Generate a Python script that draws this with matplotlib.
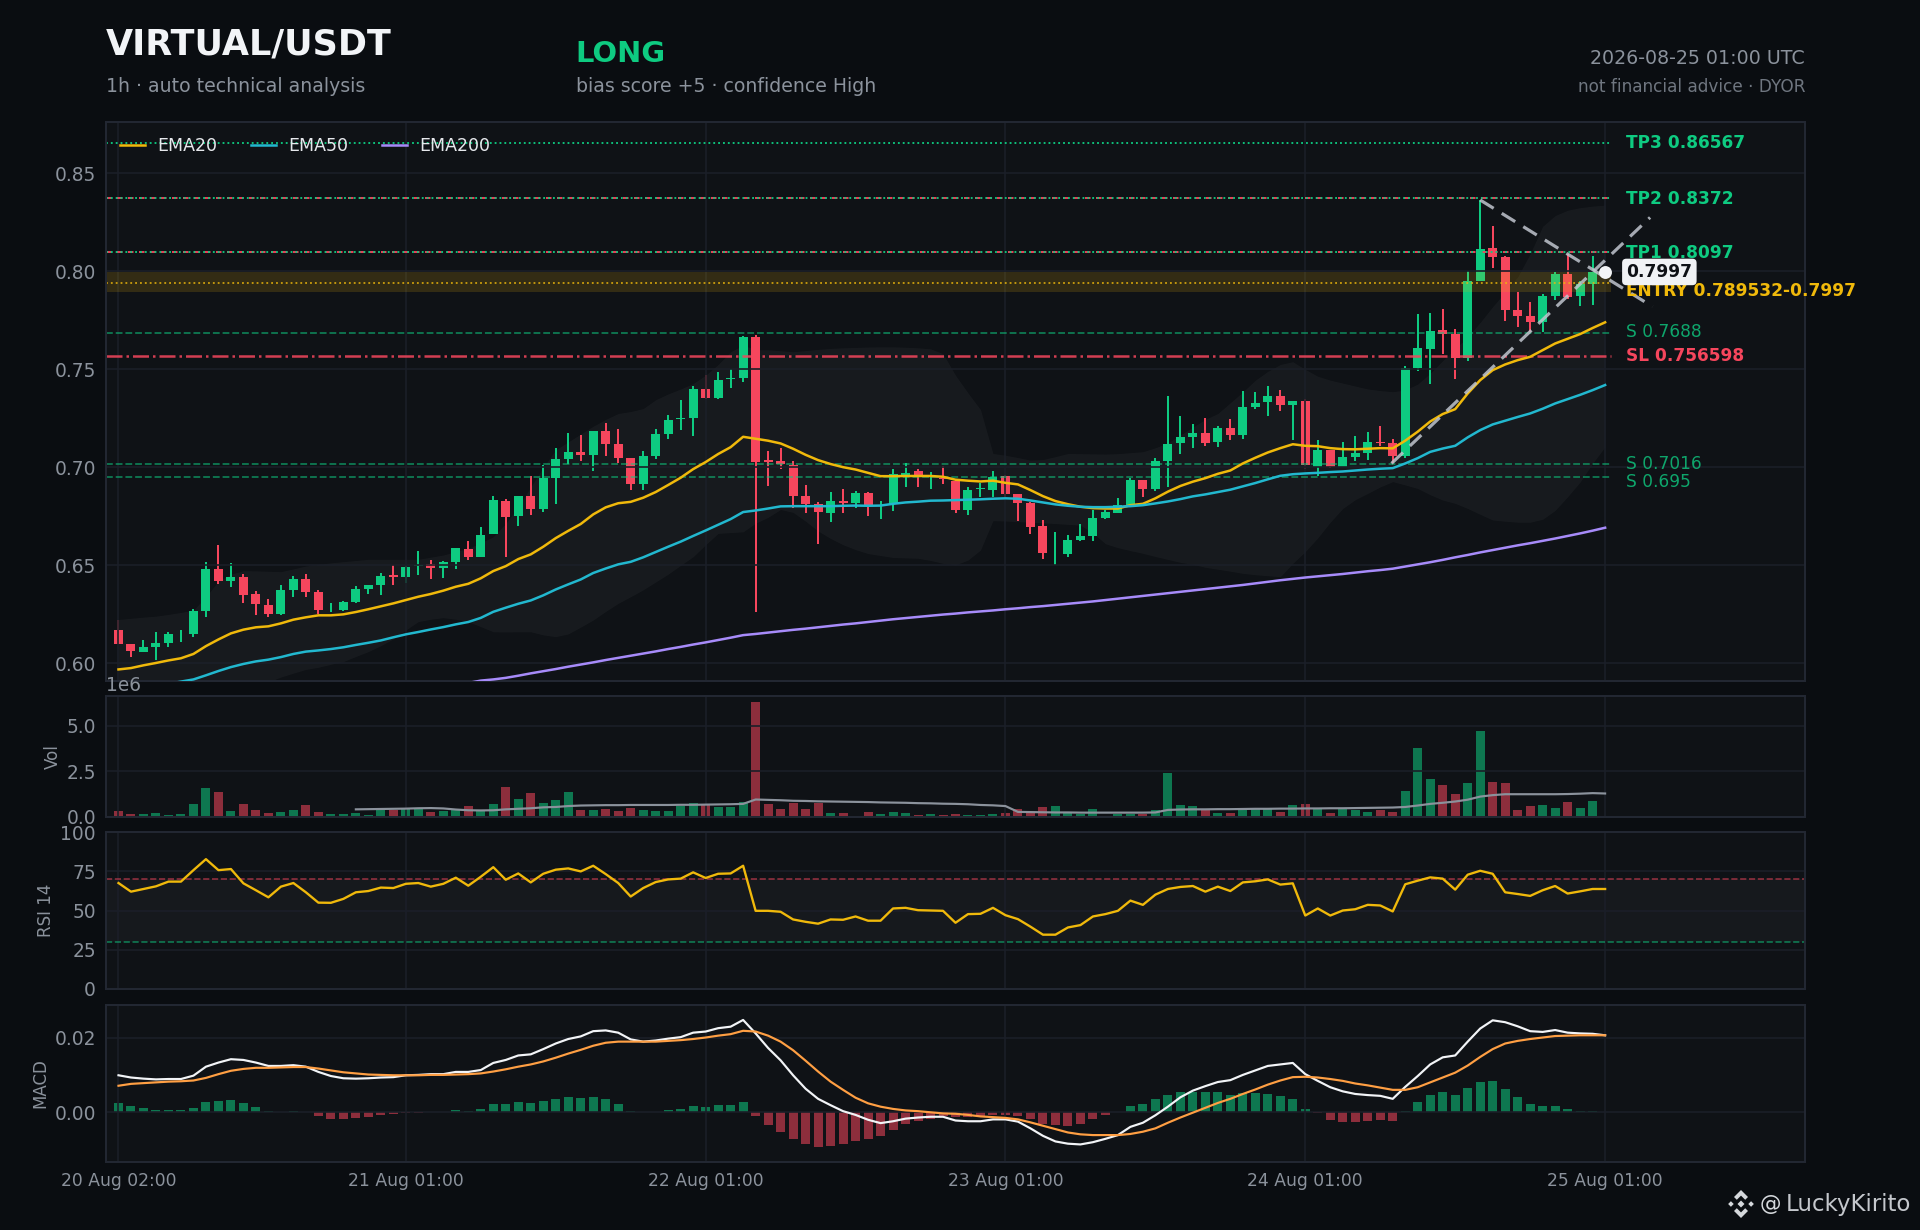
import numpy as np
import matplotlib
matplotlib.use("Agg")
import matplotlib.pyplot as plt
from matplotlib.patches import Polygon

# candles, one per hour from 20 Aug 02:00
opens = [.6170,.6099,.6058,.6085,.6104,.6130,.6150,.6267,.6481,.6420,.6440,.6354,.6298,.6252,.6374,.6430,.6364,.6275,.6272,.6313,
         .6379,.6400,.6445,.6440,.6495,.6507,.6486,.6517,.6583,.6543,.6660,.6828,.6752,.6854,.6787,.6945,.7042,.7078,.7063,.7185,
         .7119,.7047,.6915,.7058,.7170,.7245,.7251,.7399,.7353,.7452,.7455,.7664,.7031,.7031,.7012,.6854,.6813,.6767,.6822,.6817,
         .6868,.6805,.6812,.6960,.6981,.6949,.6941,.6930,.6782,.6888,.6884,.6955,.6864,.6818,.6700,.6562,.6557,.6629,.6649,.6741,
         .6767,.6807,.6935,.6889,.7032,.7124,.7154,.7175,.7129,.7200,.7165,.7307,.7333,.7364,.7318,.7338,.7001,.7088,.7001,.7053,
         .7073,.7127,.7124,.7057,.7506,.7603,.7700,.7680,.7557,.7950,.8118,.8073,.7802,.7772,.7741,.7874,.7986,.7874,.7935]
closes = [.6100,.6063,.6083,.6104,.6150,.6130,.6267,.6481,.6420,.6440,.6349,.6303,.6252,.6374,.6430,.6364,.6272,.6275,.6313,.6379,
          .6400,.6446,.6443,.6491,.6497,.6486,.6517,.6588,.6543,.6655,.6833,.6747,.6854,.6787,.6945,.7042,.7078,.7063,.7185,.7119,
          .7047,.6915,.7058,.7170,.7241,.7248,.7399,.7353,.7445,.7454,.7664,.7027,.7029,.7017,.6854,.6813,.6772,.6828,.6820,.6868,
          .6802,.6805,.6965,.6970,.6950,.6952,.6939,.6782,.6884,.6890,.6950,.6864,.6818,.6695,.6562,.6562,.6629,.6649,.6741,.6772,
          .6807,.6935,.6889,.7032,.7119,.7154,.7175,.7124,.7200,.7165,.7307,.7328,.7364,.7318,.7338,.7012,.7088,.7001,.7053,.7073,
          .7129,.7125,.7057,.7506,.7608,.7695,.7680,.7557,.7950,.8113,.8073,.7802,.7772,.7741,.7874,.7986,.7868,.7935,.7997]
highs = [.6221,.6099,.6119,.6160,.6160,.6170,.6276,.6517,.6604,.6512,.6456,.6369,.6328,.6400,.6446,.6456,.6374,.6308,.6318,.6395,
         .6400,.6461,.6502,.6502,.6573,.6527,.6522,.6588,.6624,.6696,.6854,.6838,.6854,.6955,.7011,.7098,.7175,.7165,.7185,.7226,
         .7195,.7047,.7083,.7195,.7267,.7343,.7415,.7471,.7486,.7501,.7670,.7675,.7083,.7098,.7032,.6910,.6823,.6874,.6889,.6879,
         .6874,.6826,.6990,.7022,.6991,.6976,.7006,.6940,.6899,.6919,.6981,.6960,.6864,.6823,.6731,.6669,.6654,.6711,.6782,.6782,
         .6843,.6945,.6935,.7047,.7364,.7262,.7221,.7251,.7211,.7246,.7389,.7384,.7414,.7394,.7338,.7348,.7139,.7088,.7129,.7160,
         .7180,.7211,.7144,.7516,.7782,.7787,.7807,.7705,.8001,.8364,.8231,.8078,.7894,.7843,.7884,.7996,.8088,.7950,.8078]
lows = [.6100,.6034,.6058,.6017,.6085,.6109,.6134,.6236,.6405,.6389,.6308,.6247,.6236,.6247,.6338,.6338,.6252,.6262,.6267,.6308,
        .6354,.6349,.6400,.6410,.6451,.6430,.6435,.6481,.6527,.6543,.6660,.6543,.6700,.6756,.6772,.6813,.7017,.7032,.6981,.7058,
        .7021,.6884,.6884,.7042,.7144,.7190,.7160,.7348,.7348,.7404,.7435,.6262,.6904,.6991,.6792,.6767,.6609,.6721,.6767,.6792,
        .6751,.6736,.6776,.6899,.6899,.6889,.6914,.6767,.6757,.6848,.6848,.6848,.6726,.6660,.6532,.6501,.6542,.6624,.6624,.6736,
        .6767,.6807,.6848,.6879,.6899,.7068,.7098,.7108,.7103,.7139,.7144,.7297,.7261,.7287,.7139,.6991,.6955,.6996,.7001,.7032,
        .7037,.7109,.7022,.7047,.7491,.7424,.7578,.7450,.7542,.7950,.8017,.7746,.7716,.7690,.7690,.7853,.7858,.7823,.7828]
volumes_m = [.31,.15,.15,.20,.09,.15,.70,1.58,1.36,.31,.70,.37,.20,.26,.37,.64,.26,.15,.15,.20,
             .09,.37,.37,.42,.42,.26,.31,.37,.59,.37,.70,1.64,.97,1.30,.75,.92,1.36,.37,.37,.42,
             .31,.48,.37,.31,.31,.59,.75,.64,.53,.53,.81,6.32,.70,.42,.75,.42,.75,.20,.20,.03,
             .26,.15,.26,.20,.09,.15,.09,.15,.09,.09,.15,.20,.42,.26,.53,.59,.20,.15,.42,.03,
             .15,.15,.15,.37,2.41,.64,.59,.37,.20,.20,.42,.42,.42,.26,.64,.70,.42,.20,.42,.37,
             .26,.37,.26,1.42,3.79,2.08,1.75,1.25,1.86,4.72,1.91,1.86,.37,.59,.64,.48,.81,.48,.86]
# volume average only exists from the 20th bar on
vol_ma_m = [.42,.43,.44,.45,.46,.48,.49,.47,.41,.37,.36,.37,.42,.45,.48,.53,.55,.60,.63,.64,
            .65,.65,.66,.66,.66,.66,.67,.67,.68,.69,.70,.72,.96,.94,.92,.89,.88,.86,.85,.84,
            .83,.82,.80,.79,.78,.76,.75,.73,.72,.70,.66,.64,.60,.28,.27,.26,.25,.25,.24,.24,
            .24,.24,.24,.24,.25,.39,.41,.42,.42,.43,.43,.44,.45,.45,.46,.46,.47,.47,.48,.48,
            .49,.50,.51,.52,.55,.63,.72,.78,.85,.95,1.12,1.20,1.25,1.25,1.25,1.25,1.25,1.26,1.28,1.31,
            1.29]
ema20 = [.5969,.5976,.5990,.6002,.6015,.6026,.6048,.6088,.6122,.6153,.6172,.6184,.6189,.6204,.6223,.6235,.6245,.6245,.6250,.6262,
         .6276,.6291,.6306,.6323,.6340,.6354,.6371,.6391,.6406,.6434,.6471,.6496,.6532,.6556,.6595,.6639,.6676,.6711,.6760,.6796,
         .6817,.6824,.6845,.6874,.6910,.6947,.6991,.7027,.7068,.7103,.7156,.7146,.7136,.7122,.7095,.7064,.7037,.7017,.7001,.6989,
         .6972,.6955,.6955,.6956,.6956,.6956,.6952,.6937,.6932,.6928,.6932,.6921,.6913,.6884,.6853,.6828,.6812,.6799,.6792,.6790,
         .6790,.6807,.6814,.6842,.6876,.6905,.6927,.6945,.6967,.6984,.7020,.7049,.7076,.7098,.7118,.7110,.7108,.7098,.7093,.7092,
         .7095,.7098,.7097,.7136,.7182,.7234,.7272,.7297,.7377,.7445,.7496,.7525,.7547,.7564,.7598,.7632,.7656,.7680,.7711,.7740]
ema50 = [.5860,.5868,.5876,.5885,.5895,.5907,.5918,.5939,.5961,.5981,.5997,.6010,.6019,.6032,.6048,.6060,.6066,.6073,.6082,.6094,
         .6105,.6117,.6133,.6148,.6160,.6173,.6185,.6199,.6211,.6232,.6263,.6284,.6304,.6321,.6347,.6377,.6403,.6428,.6461,.6484,
         .6505,.6518,.6541,.6568,.6595,.6621,.6650,.6678,.6707,.6736,.6772,.6780,.6790,.6801,.6802,.6802,.6802,.6802,.6804,.6805,
         .6804,.6805,.6814,.6821,.6825,.6830,.6831,.6833,.6835,.6837,.6840,.6842,.6840,.6831,.6821,.6811,.6804,.6799,.6797,.6797,
         .6799,.6802,.6807,.6816,.6826,.6838,.6852,.6862,.6874,.6886,.6903,.6920,.6939,.6957,.6965,.6969,.6972,.6976,.6979,.6984,
         .6989,.6993,.6996,.7020,.7047,.7079,.7096,.7110,.7153,.7190,.7219,.7238,.7257,.7275,.7299,.7326,.7348,.7370,.7394,.7420]
ema200 = [.5810,.5815,.5820,.5825,.5830,.5835,.5840,.5845,.5850,.5855,.5860,.5865,.5868,.5870,.5872,.5874,.5876,.5878,.5880,.5882,
          .5884,.5886,.5888,.5890,.5892,.5894,.5896,.5898,.5900,.5912,.5918,.5926,.5937,.5949,.5960,.5971,.5983,.5994,.6005,.6017,
          .6028,.6039,.6050,.6061,.6073,.6084,.6096,.6107,.6119,.6131,.6144,.6150,.6157,.6164,.6171,.6177,.6184,.6191,.6198,.6204,
          .6211,.6218,.6225,.6231,.6237,.6243,.6249,.6254,.6260,.6265,.6270,.6276,.6281,.6287,.6292,.6298,.6304,.6310,.6316,.6323,
          .6330,.6337,.6344,.6351,.6358,.6365,.6372,.6379,.6386,.6393,.6400,.6408,.6416,.6424,.6431,.6438,.6444,.6450,.6456,.6463,
          .6470,.6476,.6483,.6494,.6505,.6516,.6528,.6541,.6553,.6566,.6578,.6590,.6602,.6613,.6625,.6637,.6650,.6663,.6677,.6692]
bb_upper = [.6224,.6230,.6236,.6241,.6250,.6260,.6272,.6340,.6420,.6455,.6473,.6472,.6470,.6468,.6482,.6497,.6505,.6513,.6519,.6525,
            .6531,.6531,.6531,.6531,.6531,.6542,.6553,.6570,.6587,.6615,.6646,.6714,.6800,.6900,.7000,.7090,.7130,.7170,.7210,.7245,
            .7275,.7285,.7300,.7345,.7375,.7400,.7428,.7470,.7525,.7590,.7624,.7600,.7600,.7595,.7590,.7596,.7602,.7607,.7610,.7612,
            .7614,.7615,.7615,.7613,.7610,.7605,.7580,.7470,.7380,.7295,.7071,.7062,.7050,.7037,.7040,.7055,.7071,.7070,.7069,.7068,
            .7070,.7075,.7080,.7100,.7125,.7165,.7205,.7245,.7275,.7330,.7385,.7445,.7490,.7525,.7539,.7500,.7465,.7445,.7430,.7415,
            .7400,.7392,.7386,.7395,.7425,.7480,.7545,.7605,.7666,.7740,.7820,.7895,.7972,.8090,.8230,.8285,.8312,.8325,.8333,.8338]
bb_lower = [.5830,.5835,.5840,.5845,.5850,.5855,.5860,.5865,.5870,.5875,.5880,.5890,.5905,.5930,.5950,.5969,.5980,.5995,.6009,.6035,
            .6060,.6090,.6125,.6170,.6213,.6225,.6233,.6225,.6213,.6187,.6161,.6160,.6161,.6161,.6145,.6136,.6150,.6185,.6221,.6265,
            .6306,.6340,.6375,.6415,.6455,.6500,.6544,.6605,.6663,.6667,.6671,.6715,.6745,.6785,.6770,.6725,.6675,.6637,.6605,.6580,
            .6560,.6550,.6540,.6538,.6536,.6525,.6510,.6502,.6527,.6578,.6728,.6726,.6723,.6720,.6717,.6713,.6709,.6705,.6665,.6610,
            .6590,.6575,.6561,.6545,.6530,.6515,.6505,.6490,.6480,.6470,.6459,.6452,.6447,.6442,.6510,.6570,.6640,.6720,.6790,.6835,
            .6867,.6900,.6927,.6910,.6892,.6860,.6833,.6816,.6790,.6760,.6731,.6725,.6720,.6720,.6735,.6780,.6850,.6925,.7020,.7105]
rsi = [67.5,62,63.7,65.4,68.4,68.4,75.7,82.7,75.7,76.4,67.3,62.9,58.4,65.2,67.5,61.6,55,54.9,57.4,61.6,
       62.4,64.6,64.3,67,67.5,65.2,67,70.9,65.8,71.5,77.6,69.6,73.6,67.9,73.4,76,76.8,74.9,78.5,73.2,
       67.5,58.9,64.3,68.1,69.8,70.3,74.3,70.7,73.4,73.6,78.5,49.8,49.8,49.2,44.3,42.8,41.6,44.3,44.1,46.2,
       43.5,43.5,51.3,51.7,50.2,50,49.8,42.2,47.7,47.9,51.7,47,44.5,39.7,34.6,34.6,39.2,40.7,46.2,47.7,
       49.8,56.3,53.6,60.1,63.7,65,65.6,62,65.2,62.4,67.9,68.6,69.8,66.5,67.3,46.8,51.3,46.8,50,50.8,
       53.6,53.2,49.4,66.7,69,71.1,70.3,63.3,72.8,75.3,73.4,61.6,60.5,59.3,62.9,65.6,60.8,62.2,63.7,63.7]
macd_line = [.0099,.0093,.0090,.0088,.0089,.0089,.0098,.0122,.0133,.0142,.0140,.0133,.0124,.0124,.0126,.0122,.0108,.0097,.0091,.0090,
             .0091,.0093,.0094,.0099,.0100,.0102,.0102,.0108,.0108,.0113,.0132,.0140,.0152,.0155,.0169,.0184,.0196,.0203,.0217,.0219,
             .0213,.0195,.0189,.0192,.0197,.0201,.0213,.0216,.0225,.0229,.0247,.0211,.0172,.0139,.0099,.0063,.0036,.0019,.0003,-.0007,
             -.0020,-.0029,-.0024,-.0017,-.0014,-.0012,-.0012,-.0022,-.0024,-.0024,-.0019,-.0019,-.0025,-.0043,-.0063,-.0078,-.0084,-.0086,-.0080,-.0071,
             -.0061,-.0039,-.0028,-.0008,.0015,.0040,.0058,.0070,.0081,.0086,.0100,.0112,.0124,.0128,.0132,.0102,.0084,.0067,.0056,.0049,
             .0046,.0044,.0036,.0068,.0097,.0128,.0147,.0152,.0189,.0224,.0246,.0241,.0230,.0217,.0215,.0220,.0213,.0211,.0210,.0206]
macd_signal = [.0071,.0076,.0078,.0080,.0082,.0083,.0085,.0092,.0102,.0111,.0116,.0119,.0119,.0120,.0121,.0121,.0117,.0112,.0107,.0104,
               .0101,.0100,.0099,.0099,.0099,.0100,.0100,.0101,.0102,.0104,.0109,.0115,.0122,.0128,.0136,.0146,.0157,.0167,.0178,.0186,
               .0189,.0189,.0189,.0189,.0191,.0193,.0196,.0200,.0205,.0209,.0218,.0216,.0205,.0189,.0166,.0138,.0109,.0082,.0060,.0039,
               .0024,.0015,.0009,.0005,.0003,.0000,-.0003,-.0004,-.0007,-.0011,-.0013,-.0015,-.0019,-.0027,-.0036,-.0045,-.0054,-.0059,-.0061,-.0061,
               -.0061,-.0058,-.0052,-.0043,-.0028,-.0014,-.0001,.0012,.0025,.0036,.0049,.0061,.0074,.0085,.0094,.0095,.0093,.0089,.0084,.0077,
               .0072,.0066,.0060,.0060,.0067,.0080,.0093,.0106,.0125,.0148,.0169,.0184,.0191,.0196,.0200,.0204,.0205,.0206,.0206,.0206]
macd_hist = [.0025,.0017,.0012,.0006,.0006,.0006,.0012,.0028,.0030,.0033,.0025,.0014,.0004,0,.0004,0,-.0010,-.0018,-.0018,-.0015,
             -.0012,-.0007,-.0004,-.0002,-.0001,0,0,.0006,.0003,.0009,.0022,.0022,.0028,.0025,.0030,.0036,.0041,.0038,.0041,.0036,
             .0022,.0004,0,0,.0006,.0009,.0017,.0014,.0020,.0020,.0028,-.0010,-.0034,-.0052,-.0071,-.0084,-.0092,-.0090,-.0084,-.0076,
             -.0071,-.0063,-.0047,-.0031,-.0023,-.0018,-.0010,-.0012,-.0013,-.0009,-.0007,-.0007,-.0010,-.0019,-.0031,-.0035,-.0036,-.0031,-.0018,-.0006,
             0,.0016,.0022,.0036,.0046,.0054,.0054,.0054,.0054,.0046,.0052,.0052,.0049,.0044,.0036,.0009,-.0003,-.0020,-.0026,-.0026,
             -.0023,-.0020,-.0023,.0003,.0028,.0046,.0054,.0046,.0065,.0081,.0084,.0062,.0041,.0022,.0017,.0017,.0009,.0003,.0003]
trend_down_x = [109, 122.8]
trend_down_y = [.8364, .7820]
trend_up_x = [101.9, 122.6]
trend_up_y = [.7020, .8275]
tp_levels = [.86567, .8372, .8097]
tp_labels = ["TP3 0.86567", "TP2 0.8372", "TP1 0.8097"]
res_levels = [.8372, .8097]
support_levels = [.7688, .7016, .695]
support_labels = ["S 0.7688", "S 0.7016", "S 0.695"]
support_label_y = [.7690, .7019, .6924]
sl_level = .756598
entry_low, entry_high, entry_mid = .789532, .7997, .7942
last_price = .7997
x_ticks = [0, 23, 47, 71, 95, 119]
x_labels = ["20 Aug 02:00", "21 Aug 01:00", "22 Aug 01:00", "23 Aug 01:00", "24 Aug 01:00", "25 Aug 01:00"]

BG = "#0a0d11"
PANEL = "#0f1216"
GRID = "#1b1f28"
SPINE = "#222732"
MUTED = "#8b929c"
GREEN = "#0ecb81"
RED = "#f6465d"
YELLOW = "#f0b90b"
W, H = 1920, 1230

plt.rcParams["font.family"] = "DejaVu Sans"
fig = plt.figure(figsize=(W / 120, H / 120), dpi=120, facecolor=BG)


def add_panel(top, bottom):
    ax = fig.add_axes([106 / W, 1 - bottom / H, (1805 - 106) / W, (bottom - top) / H], facecolor=PANEL)
    for s in ax.spines.values():
        s.set_color(SPINE)
        s.set_linewidth(1.2)
    ax.grid(True, color=GRID, linewidth=1.0)
    ax.tick_params(length=0, colors=MUTED, labelsize=11.2, pad=6)
    ax.set_xlim(-1, 135)
    ax.set_xticks(x_ticks)
    return ax


ax = add_panel(122, 681)
ax_vol = add_panel(696, 817)
ax_rsi = add_panel(832, 989)
ax_macd = add_panel(1005, 1162)

x = np.arange(len(closes))
x_all = np.arange(len(ema20))
o, c, h, l = map(np.array, (opens, closes, highs, lows))
up = c >= o
colors = np.where(up, GREEN, RED)

# price panel
ax.fill_between(x_all, bb_lower, bb_upper, color="#ffffff", alpha=0.035, linewidth=0, zorder=0.5)
ax.axhspan(entry_low, entry_high, xmax=(119.5 + 1) / 136, color=YELLOW, alpha=0.16, linewidth=0, zorder=1.6)
ax.vlines(x, l, h, colors=colors, linewidth=1.2, zorder=1)
body = np.abs(c - o)
body = np.where(body == 0, 0, np.maximum(body, .0006))
ax.bar(x, body, bottom=np.minimum(o, c), width=0.72, color=colors, linewidth=0, zorder=1)

ax.plot(x_all, ema20, color=YELLOW, lw=1.5, label="EMA20", zorder=3)
ax.plot(x_all, ema50, color="#22b8cf", lw=1.5, label="EMA50", zorder=3)
ax.plot(x_all, ema200, color="#a78bfa", lw=1.5, label="EMA200", zorder=3)

ax.hlines(res_levels, -1, 119.5, colors=RED, linestyles=[(0, (3, 3))], linewidth=1.1, zorder=2)
ax.hlines(tp_levels, -1, 119.5, colors=GREEN, linestyles=":", linewidth=1.1, zorder=2.1)
ax.hlines(support_levels, -1, 119.5, colors=GREEN, linestyles="--", linewidth=1.1, alpha=0.55, zorder=2)
ax.hlines(sl_level, -1, 119.5, colors=RED, linestyles="-.", linewidth=1.5, alpha=0.85, zorder=2)
ax.hlines(entry_mid, -1, 119.5, colors=YELLOW, linestyles=":", linewidth=1.1, alpha=0.8, zorder=2)

ax.plot(trend_down_x, trend_down_y, color="#c0c5ce", lw=1.9, ls=(0, (5, 3)), alpha=0.85, zorder=4)
ax.plot(trend_up_x, trend_up_y, color="#c0c5ce", lw=1.9, ls=(0, (5, 3)), alpha=0.85, zorder=4)
ax.scatter([119], [last_price], s=60, color="#f2f4f7", linewidth=0, zorder=6)

lab_x = 120.7
for lvl, txt in zip(tp_levels, tp_labels):
    ax.text(lab_x, lvl - .0002, txt, color=GREEN, fontsize=10.2, fontweight="bold", va="center", zorder=7)
for y, txt in zip(support_label_y, support_labels):
    ax.text(lab_x, y, txt, color=GREEN, alpha=0.8, fontsize=10.2, va="center", zorder=7)
ax.text(lab_x, sl_level, "SL 0.756598", color=RED, fontsize=10.2, fontweight="bold", va="center", zorder=7)
ax.text(lab_x, .7900, "ENTRY 0.789532-0.7997", color=YELLOW, fontsize=10.2, fontweight="bold", va="center", zorder=7)
ax.text(lab_x, last_price, "0.7997", color="#0e1116", fontsize=10.2, fontweight="bold", va="center", zorder=8,
        bbox=dict(boxstyle="round,pad=0.25", fc="#f0f2f5", ec="none"))

ax.set_ylim(.591, .8762)
ax.set_yticks([.60, .65, .70, .75, .80, .85])
ax.set_xticklabels([])
ax.legend(loc="upper left", ncol=3, frameon=False, fontsize=10.4, labelcolor="#e6e8ec",
          bbox_to_anchor=(0.001, 0.995), handlelength=1.45, columnspacing=1.95, handletextpad=0.7, borderaxespad=0.3)

# volume panel
ax_vol.bar(x, np.array(volumes_m) * 1e6, width=0.72, color=colors, alpha=0.55, linewidth=0)
ax_vol.plot(np.arange(19, 19 + len(vol_ma_m)), np.array(vol_ma_m) * 1e6, color="#8b929c", lw=1.3)
ax_vol.set_ylim(0, 6.64e6)
ax_vol.set_yticks([0, 2.5e6, 5e6])
ax_vol.set_xticklabels([])
ax_vol.set_ylabel("Vol", color=MUTED, fontsize=10, labelpad=3)
ax_vol.yaxis.get_offset_text().set_color(MUTED)
ax_vol.yaxis.get_offset_text().set_fontsize(11.2)

# rsi panel
ax_rsi.axhspan(30, 70, color="#ffffff", alpha=0.03, linewidth=0, zorder=0.5)
ax_rsi.axhline(70, color=RED, ls="--", lw=1.0, alpha=0.55)
ax_rsi.axhline(30, color=GREEN, ls="--", lw=1.0, alpha=0.55)
ax_rsi.plot(x_all, rsi, color=YELLOW, lw=1.4)
ax_rsi.set_ylim(0, 100)
ax_rsi.set_yticks([0, 25, 50, 75, 100])
ax_rsi.set_xticklabels([])
ax_rsi.set_ylabel("RSI 14", color=MUTED, fontsize=10, labelpad=3)

# macd panel
hist_colors = np.where(np.array(macd_hist) >= 0, GREEN, RED)
ax_macd.bar(np.arange(len(macd_hist)), macd_hist, width=0.72, color=hist_colors, alpha=0.55, linewidth=0)
ax_macd.plot(x_all, macd_line, color="#f2f4f7", lw=1.3)
ax_macd.plot(x_all, macd_signal, color="#ff9f43", lw=1.3)
ax_macd.set_ylim(-.0133, .0287)
ax_macd.set_yticks([0, .02])
ax_macd.set_yticklabels(["0.00", "0.02"])
ax_macd.set_xticklabels(x_labels, fontsize=10.3)
ax_macd.tick_params(axis="x", pad=6)
ax_macd.set_ylabel("MACD", color=MUTED, fontsize=10, labelpad=3)

# header
fig.text(106 / W, 1 - 44 / H, "VIRTUAL/USDT", color="#f2f4f7", fontsize=21, fontweight="bold", va="center")
fig.text(106 / W, 1 - 87 / H, "1h · auto technical analysis", color=MUTED, fontsize=11.3, va="center")
fig.text(575 / W, 1 - 54 / H, "LONG", color=GREEN, fontsize=17.4, fontweight="bold", va="center")
fig.text(576 / W, 1 - 87 / H, "bias score +5 · confidence High", color=MUTED, fontsize=11.3, va="center")
fig.text(1805 / W, 1 - 58 / H, "2026-08-25 01:00 UTC", color=MUTED, fontsize=11.4, ha="right", va="center")
fig.text(1805 / W, 1 - 87 / H, "not financial advice · DYOR", color="#6f7680", fontsize=10.1, ha="right", va="center")

# watermark
logo = fig.add_axes([1727 / W, 1 - 1218 / H, 28 / W, 28 / H])
logo.set_axis_off()
logo.set_xlim(-1, 1)
logo.set_ylim(-1, 1)
LOGO_COLOR = "#d5d8dc"
for dx, dy, r in [(0, 0, .25), (-.72, 0, .2), (.72, 0, .2)]:
    logo.add_patch(Polygon([(dx - r, dy), (dx, dy + r), (dx + r, dy), (dx, dy - r)], color=LOGO_COLOR, lw=0))
logo.add_patch(Polygon([(0, 1), (.5, .5), (.3, .3), (0, .6), (-.3, .3), (-.5, .5)], color=LOGO_COLOR, lw=0))
logo.add_patch(Polygon([(0, -1), (.5, -.5), (.3, -.3), (0, -.6), (-.3, -.3), (-.5, -.5)], color=LOGO_COLOR, lw=0))
fig.text(1760 / W, 1 - 1204 / H, "@", color=LOGO_COLOR, fontsize=13, va="center")
fig.text(1786 / W, 1 - 1204 / H, "LuckyKirito", color="#c4c7cc", fontsize=13.7, va="center")

fig.savefig("out.png", dpi=120, facecolor=BG)
